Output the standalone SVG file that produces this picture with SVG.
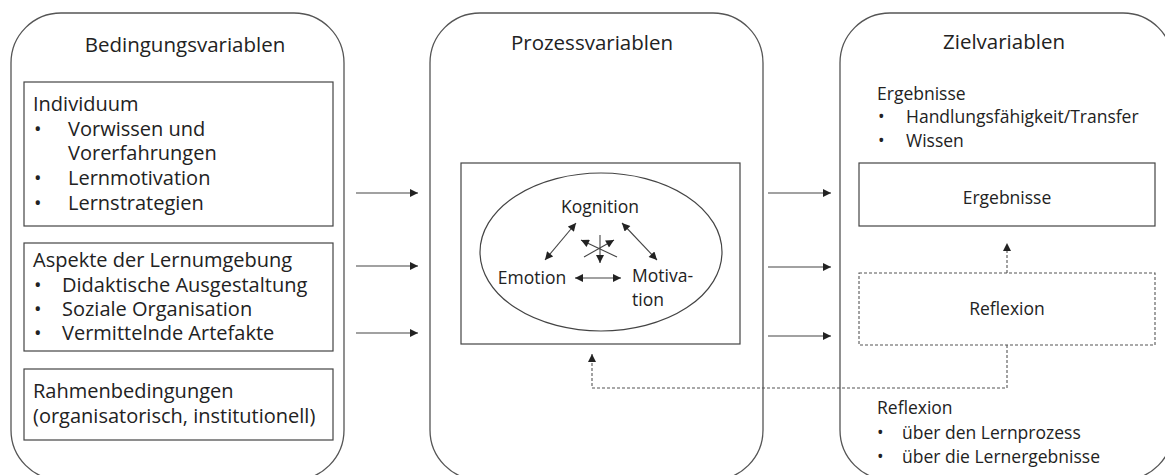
<svg xmlns="http://www.w3.org/2000/svg" width="1165" height="475" viewBox="0 0 1165 475">
<defs>
<marker id="ah" viewBox="0 0 10 10" refX="10" refY="5" markerWidth="9" markerHeight="8" markerUnits="userSpaceOnUse" orient="auto-start-reverse">
<path d="M0,0 L10,5 L0,10 z" fill="#222"/>
</marker>
<style>
.outer{fill:none;stroke:#555;stroke-width:1.3}
.box{fill:none;stroke:#444;stroke-width:1.2}
.dash{fill:none;stroke:#555;stroke-width:1.1;stroke-dasharray:3,2}
.t{font-family:"Open Sans","Noto Sans","DejaVu Sans",sans-serif;fill:#222}
.title{font-size:20.5px;text-anchor:middle}
.lg{font-size:20px}
.md{font-size:17.5px}
.c{text-anchor:middle}
.con{fill:none;stroke:#444;stroke-width:1.1}
</style>
</defs>
<g id="bedingungsvariablen">
<rect class="outer" x="11" y="13" width="333" height="467" rx="50" ry="50"/>
<text class="t title" x="185" y="52">Bedingungsvariablen</text>
</g>
<g id="individuum">
<rect class="box" x="24" y="82" width="309" height="144"/>
<text class="t lg"><tspan x="33" y="111">Individuum</tspan><tspan x="34" y="136">•</tspan><tspan x="68" y="136">Vorwissen und</tspan><tspan x="68" y="160">Vorerfahrungen</tspan><tspan x="34" y="185">•</tspan><tspan x="68" y="185">Lernmotivation</tspan><tspan x="34" y="210">•</tspan><tspan x="68" y="210">Lernstrategien</tspan></text>
</g>
<g id="lernumgebung">
<rect class="box" x="24" y="243" width="309" height="108"/>
<text class="t lg"><tspan x="33" y="267">Aspekte der Lernumgebung</tspan><tspan x="34" y="292">•</tspan><tspan x="62" y="292">Didaktische Ausgestaltung</tspan><tspan x="34" y="316">•</tspan><tspan x="62" y="316">Soziale Organisation</tspan><tspan x="34" y="340">•</tspan><tspan x="62" y="340">Vermittelnde Artefakte</tspan></text>
</g>
<g id="rahmenbedingungen">
<rect class="box" x="24" y="369" width="309" height="71"/>
<text class="t lg"><tspan x="33" y="398">Rahmenbedingungen</tspan><tspan x="33" y="423">(organisatorisch, institutionell)</tspan></text>
</g>
<g id="prozessvariablen">
<rect class="outer" x="430" y="13" width="333" height="467" rx="50" ry="50"/>
<text class="t title" x="592" y="50">Prozessvariablen</text>
</g>
<g id="prozess">
<rect class="box" x="461" y="163" width="279" height="181"/>
<ellipse class="box" cx="601" cy="252" rx="121" ry="79"/>
<text class="t md c" x="600" y="213">Kognition</text>
<text class="t md c" x="532" y="284">Emotion</text>
<text class="t md"><tspan x="632" y="282">Motiva-</tspan><tspan x="632" y="306">tion</tspan></text>
</g>
<g id="zielvariablen">
<rect class="outer" x="840" y="13" width="333" height="467" rx="50" ry="50"/>
<text class="t title" x="1004" y="49">Zielvariablen</text>
<text class="t md"><tspan x="877" y="100">Ergebnisse</tspan><tspan x="878" y="123">•</tspan><tspan x="906" y="123">Handlungsfähigkeit/Transfer</tspan><tspan x="878" y="147">•</tspan><tspan x="906" y="147">Wissen</tspan></text>
<text class="t md"><tspan x="877" y="414">Reflexion</tspan><tspan x="877" y="439">•</tspan><tspan x="902" y="439">über den Lernprozess</tspan><tspan x="877" y="463">•</tspan><tspan x="902" y="463">über die Lernergebnisse</tspan></text>
</g>
<g id="ergebnisse">
<rect class="box" x="859" y="163" width="296" height="63"/>
<text class="t md c" x="1007" y="204">Ergebnisse</text>
</g>
<g id="reflexion">
<rect class="dash" x="859" y="273" width="296" height="72"/>
<text class="t md c" x="1007" y="315">Reflexion</text>
</g>
<g id="connectors">
<line class="con" x1="356" y1="193" x2="418" y2="193" marker-end="url(#ah)"/>
<line class="con" x1="356" y1="266" x2="418" y2="266" marker-end="url(#ah)"/>
<line class="con" x1="356" y1="333" x2="418" y2="333" marker-end="url(#ah)"/>
<line class="con" x1="768" y1="193" x2="831" y2="193" marker-end="url(#ah)"/>
<line class="con" x1="768" y1="267" x2="831" y2="267" marker-end="url(#ah)"/>
<line class="con" x1="768" y1="336" x2="831" y2="336" marker-end="url(#ah)"/>
<line class="con" x1="576" y1="223" x2="545" y2="260" marker-start="url(#ah)" marker-end="url(#ah)"/>
<line class="con" x1="622" y1="223" x2="657" y2="260" marker-start="url(#ah)" marker-end="url(#ah)"/>
<line class="con" x1="575" y1="278" x2="621" y2="278" marker-start="url(#ah)" marker-end="url(#ah)"/>
<line class="con" x1="600" y1="235" x2="600" y2="263" marker-end="url(#ah)"/>
<line class="con" x1="617" y1="257" x2="581" y2="240" marker-end="url(#ah)"/>
<line class="con" x1="584" y1="257" x2="614" y2="240" marker-end="url(#ah)"/>
<line class="dash" x1="1007" y1="273" x2="1007" y2="243" marker-end="url(#ah)"/>
<polyline class="dash" points="1007,345 1007,388 592,388 592,354" marker-end="url(#ah)"/>
</g>
</svg>
